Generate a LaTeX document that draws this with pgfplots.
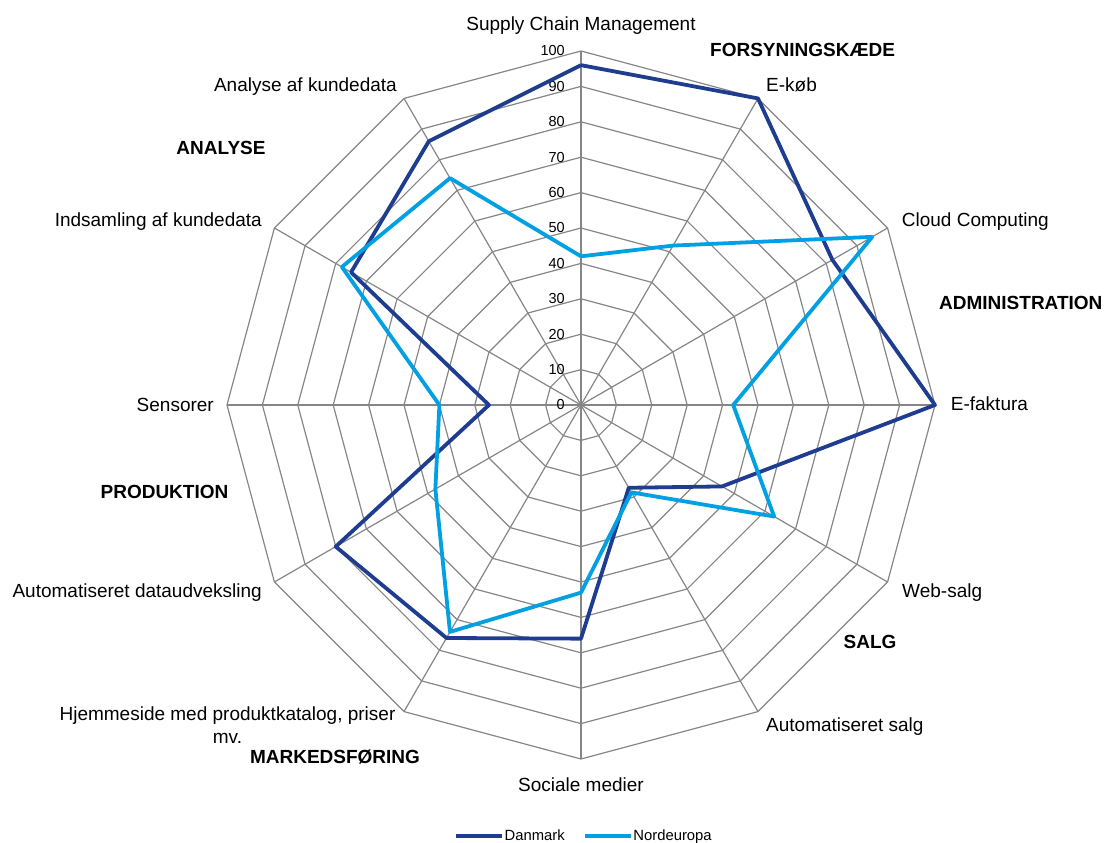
\documentclass[border=0pt]{standalone}
\usepackage{pgfplots}
\pgfplotsset{compat=1.18}
\usepgfplotslibrary{polar}
\usepackage{fontspec}
\setmainfont{Liberation Sans}
\definecolor{dk}{RGB}{30,61,145}
\definecolor{lt}{RGB}{0,160,226}
\definecolor{gridc}{RGB}{134,134,134}
\newcommand\lab{\fontsize{19bp}{22bp}\selectfont}
\newcommand\blab{\fontsize{19bp}{22bp}\selectfont\bfseries}
\newcommand\tck{\fontsize{14.5bp}{17bp}\selectfont}
\begin{document}
\begin{tikzpicture}[x=1bp,y=1bp]
\begin{polaraxis}[
  at={(0,0)}, anchor=center,
  scale only axis, width=708bp, height=708bp,
  xmin=0, xmax=360, ymin=0, ymax=100,
  hide axis, clip=false,
  legend style={at={(0.5032,-0.1088)}, anchor=center, draw=none, fill=none,
    font=\fontsize{14.8bp}{17bp}\selectfont, legend columns=2,
    /tikz/every even column/.append style={column sep=17bp},
    inner sep=0pt, nodes={inner sep=1bp}},
  legend cell align=left,
  legend image code/.code={\draw[#1] (0bp,0bp) -- (46bp,0bp);},
]
\pgfplotsinvokeforeach{0,30,...,330}{
  \draw[gridc, line width=1.2bp] (axis cs:#1,0) -- (axis cs:#1,100);
}
\pgfplotsinvokeforeach{10,20,...,100}{
  \draw[gridc, line width=1.2bp] (axis cs:0,#1) -- (axis cs:30,#1) -- (axis cs:60,#1) -- (axis cs:90,#1) -- (axis cs:120,#1) -- (axis cs:150,#1) -- (axis cs:180,#1) -- (axis cs:210,#1) -- (axis cs:240,#1) -- (axis cs:270,#1) -- (axis cs:300,#1) -- (axis cs:330,#1) -- cycle;
}
\pgfplotsinvokeforeach{0,10,...,100}{
  \node[anchor=east, inner sep=0pt, font=\tck, xshift=-16bp] at (axis cs:90,#1) {#1};
}
\addplot[dk, line width=3.8bp, line join=round, no markers] coordinates {
 (90,96) (60,100) (30,82) (0,100) (-30,46) (-60,27) (-90,66) (-120,76) (-150,80) (-180,26) (-210,75) (-240,86) (-270,96)};
\addlegendentry{Danmark}
\addplot[lt, line width=3.8bp, line join=round, no markers] coordinates {
 (90,42) (60,52) (30,95) (0,43) (-30,63) (-60,28.5) (-90,53) (-120,74) (-150,47.5) (-180,40) (-210,78) (-240,74) (-270,42)};
\addlegendentry{Nordeuropa}
\coordinate (C) at (axis cs:0,0);
\end{polaraxis}
\begin{scope}[shift={(C)}]
\node[anchor=base, inner sep=0pt, font=\lab] at (0,374) {Supply Chain Management};
\node[anchor=base west, inner sep=0pt, font=\lab] at (185,313.3) {E-køb};
\node[anchor=base west, inner sep=0pt, font=\blab] at (129,348.3) {FORSYNINGSKÆDE};
\node[anchor=base west, inner sep=0pt, font=\lab] at (320.7,178.3) {Cloud Computing};
\node[anchor=base west, inner sep=0pt, font=\blab] at (358,95.7) {ADMINISTRATION};
\node[anchor=base west, inner sep=0pt, font=\lab] at (369.7,-6) {E-faktura};
\node[anchor=base west, inner sep=0pt, font=\lab] at (321,-192) {Web-salg};
\node[anchor=base, inner sep=0pt, font=\blab] at (289,-243) {SALG};
\node[anchor=base west, inner sep=0pt, font=\lab] at (185,-326) {Automatiseret salg};
\node[anchor=base, inner sep=0pt, font=\lab] at (0,-386) {Sociale medier};
\node[anchor=base, inner sep=0pt, font=\lab] at (-353.5,-315) {Hjemmeside med produktkatalog, priser};
\node[anchor=base, inner sep=0pt, font=\lab] at (-353.5,-338.3) {mv.};
\node[anchor=base, inner sep=0pt, font=\blab] at (-246,-358.3) {MARKEDSFØRING};
\node[anchor=base east, inner sep=0pt, font=\lab] at (-319,-192) {Automatiseret dataudveksling};
\node[anchor=base, inner sep=0pt, font=\blab] at (-416.5,-94) {PRODUKTION};
\node[anchor=base east, inner sep=0pt, font=\lab] at (-367,-7) {Sensorer};
\node[anchor=base east, inner sep=0pt, font=\lab] at (-319,178) {Indsamling af kundedata};
\node[anchor=base, inner sep=0pt, font=\blab] at (-360,250) {ANALYSE};
\node[anchor=base east, inner sep=0pt, font=\lab] at (-184,313) {Analyse af kundedata};
\pgfresetboundingbox
\path[use as bounding box] (-581,-438) rectangle (524,405);
\end{scope}
\end{tikzpicture}
\end{document}
